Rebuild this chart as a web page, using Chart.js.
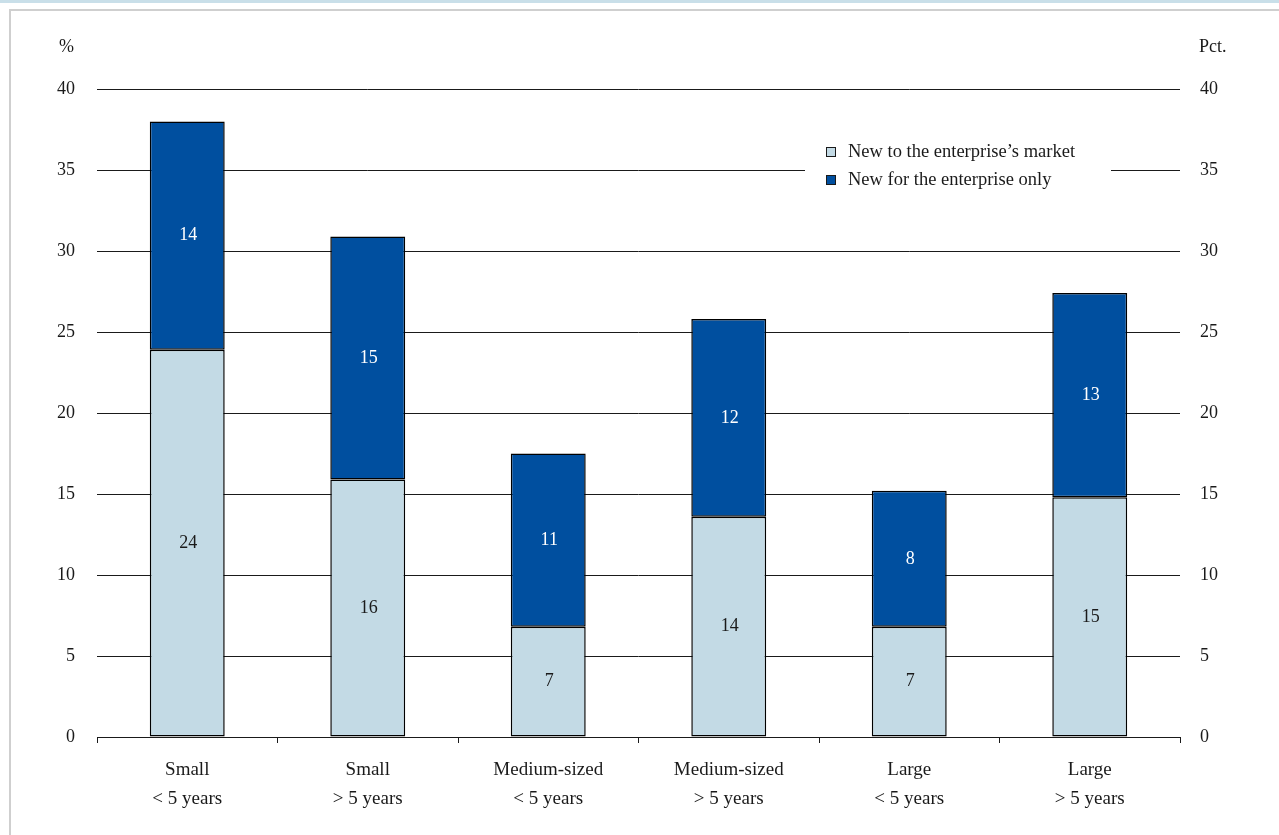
<!DOCTYPE html>
<html>
<head>
<meta charset="utf-8">
<script src="https://cdn.jsdelivr.net/npm/chart.js@4"></script>
<style>
  html, body { margin: 0; padding: 0; background: #fff; }
  #wrap { position: relative; width: 1279px; height: 835px; }
</style>
</head>
<body>
<div id="wrap"><canvas id="chart" width="1279" height="835"></canvas></div>
<script>
const categories = [
  ["Small", "< 5 years"],
  ["Small", "> 5 years"],
  ["Medium-sized", "< 5 years"],
  ["Medium-sized", "> 5 years"],
  ["Large", "< 5 years"],
  ["Large", "> 5 years"],
];
const newToMarket = [23.9, 15.9, 6.8, 13.6, 6.8, 14.8];
const newForEnterprise = [14.1, 15.0, 10.7, 12.2, 8.4, 12.6];
const seriesNames = ["New to the enterprise\u2019s market", "New for the enterprise only"];

const LIGHT = "#c3dae5";
const DARK = "#004f9f";
const FONT = "'Liberation Serif', 'DejaVu Serif', serif";

// page frame: pale band on top, grey rule along top and left
const framePlugin = {
  id: "frame",
  beforeDraw(chart) {
    const ctx = chart.ctx;
    ctx.save();
    ctx.fillStyle = "#c9dfe9";
    ctx.fillRect(0, 0, chart.width, 3);
    ctx.fillStyle = "#cfcfcf";
    ctx.fillRect(9, 9, chart.width - 9, 2);
    ctx.fillRect(9, 9, 2, chart.height - 9);
    ctx.restore();
  },
};

// rounded values written in the middle of each segment
const valueLabels = {
  id: "valueLabels",
  afterDatasetsDraw(chart) {
    const ctx = chart.ctx;
    ctx.save();
    ctx.font = "18px " + FONT;
    ctx.textAlign = "center";
    ctx.textBaseline = "middle";
    chart.data.datasets.forEach((ds, i) => {
      const meta = chart.getDatasetMeta(i);
      ctx.fillStyle = i === 0 ? "#1a1a1a" : "#ffffff";
      meta.data.forEach((bar, j) => {
        const mid = (bar.y + bar.base) / 2;
        ctx.fillText(String(Math.round(ds.data[j])), bar.x + 1, mid);
      });
    });
    ctx.restore();
  },
};

// axis units above the tick columns and the legend box
const extras = {
  id: "extras",
  afterDraw(chart) {
    const ctx = chart.ctx;
    ctx.save();
    ctx.font = "18px " + FONT;
    ctx.fillStyle = "#1a1a1a";
    ctx.textBaseline = "middle";
    ctx.textAlign = "left";
    ctx.fillText("%", 59, 47);
    ctx.fillText("Pct.", 1199, 47);

    // legend
    const lx = 805, ly = 138;
    ctx.fillStyle = "#ffffff";
    ctx.fillRect(lx, ly, 306, 58);
    chart.data.datasets.forEach((ds, i) => {
      const y = 152 + i * 28;
      ctx.fillStyle = ds.backgroundColor;
      ctx.fillRect(826, y - 5, 10, 10);
      ctx.strokeStyle = "#1a1a1a";
      ctx.lineWidth = 1;
      ctx.strokeRect(826.5, y - 4.5, 9, 9);
      ctx.fillStyle = "#1a1a1a";
      ctx.font = "18.5px " + FONT;
      ctx.fillText(ds.label, 848, y);
    });
    ctx.restore();
  },
};

const data = {
  labels: categories,
  datasets: [
    {
      label: seriesNames[0],
      data: newToMarket,
      backgroundColor: LIGHT,
      borderColor: "#000000",
      borderWidth: 1.5,
      borderSkipped: false,
      barPercentage: 0.415,
      categoryPercentage: 1,
    },
    {
      label: seriesNames[1],
      data: newForEnterprise,
      backgroundColor: DARK,
      borderColor: "#000000",
      borderWidth: 1.5,
      borderSkipped: false,
      barPercentage: 0.415,
      categoryPercentage: 1,
    },
  ],
};

const config = {
  type: "bar",
  data: data,
  options: {
    responsive: false,
    animation: false,
    devicePixelRatio: 1,
    layout: { padding: { top: 89, left: 0, right: 0, bottom: 0 } },
    plugins: {
      legend: { display: false },
      tooltip: { enabled: false },
    },
    scales: {
      x: {
        stacked: true,
        border: { display: true, color: "#1a1a1a", width: 1 },
        grid: {
          offset: true,
          drawOnChartArea: false,
          drawTicks: true,
          tickLength: 6,
          color: "#1a1a1a",
        },
        ticks: {
          color: "#1a1a1a",
          padding: 12,
          maxRotation: 0,
          autoSkip: false,
          font: { family: FONT, size: 19, lineHeight: 1.55 },
        },
        afterFit(scale) { scale.height = 98; },
      },
      y: {
        stacked: true,
        position: "left",
        min: 0,
        max: 40,
        border: { display: false },
        grid: { color: "#1a1a1a", lineWidth: 1, drawTicks: false },
        ticks: {
          stepSize: 5,
          color: "#1a1a1a",
          padding: 22,
          font: { family: FONT, size: 18 },
        },
        afterFit(scale) { scale.width = 97; },
      },
      y2: {
        position: "right",
        min: 0,
        max: 40,
        border: { display: false },
        grid: { display: false, drawTicks: false },
        ticks: {
          stepSize: 5,
          color: "#1a1a1a",
          padding: 20,
          font: { family: FONT, size: 18 },
        },
        afterFit(scale) { scale.width = 99; },
      },
    },
  },
  plugins: [framePlugin, valueLabels, extras],
};

const myChart = new Chart(document.getElementById("chart"), config);
</script>
</body>
</html>
